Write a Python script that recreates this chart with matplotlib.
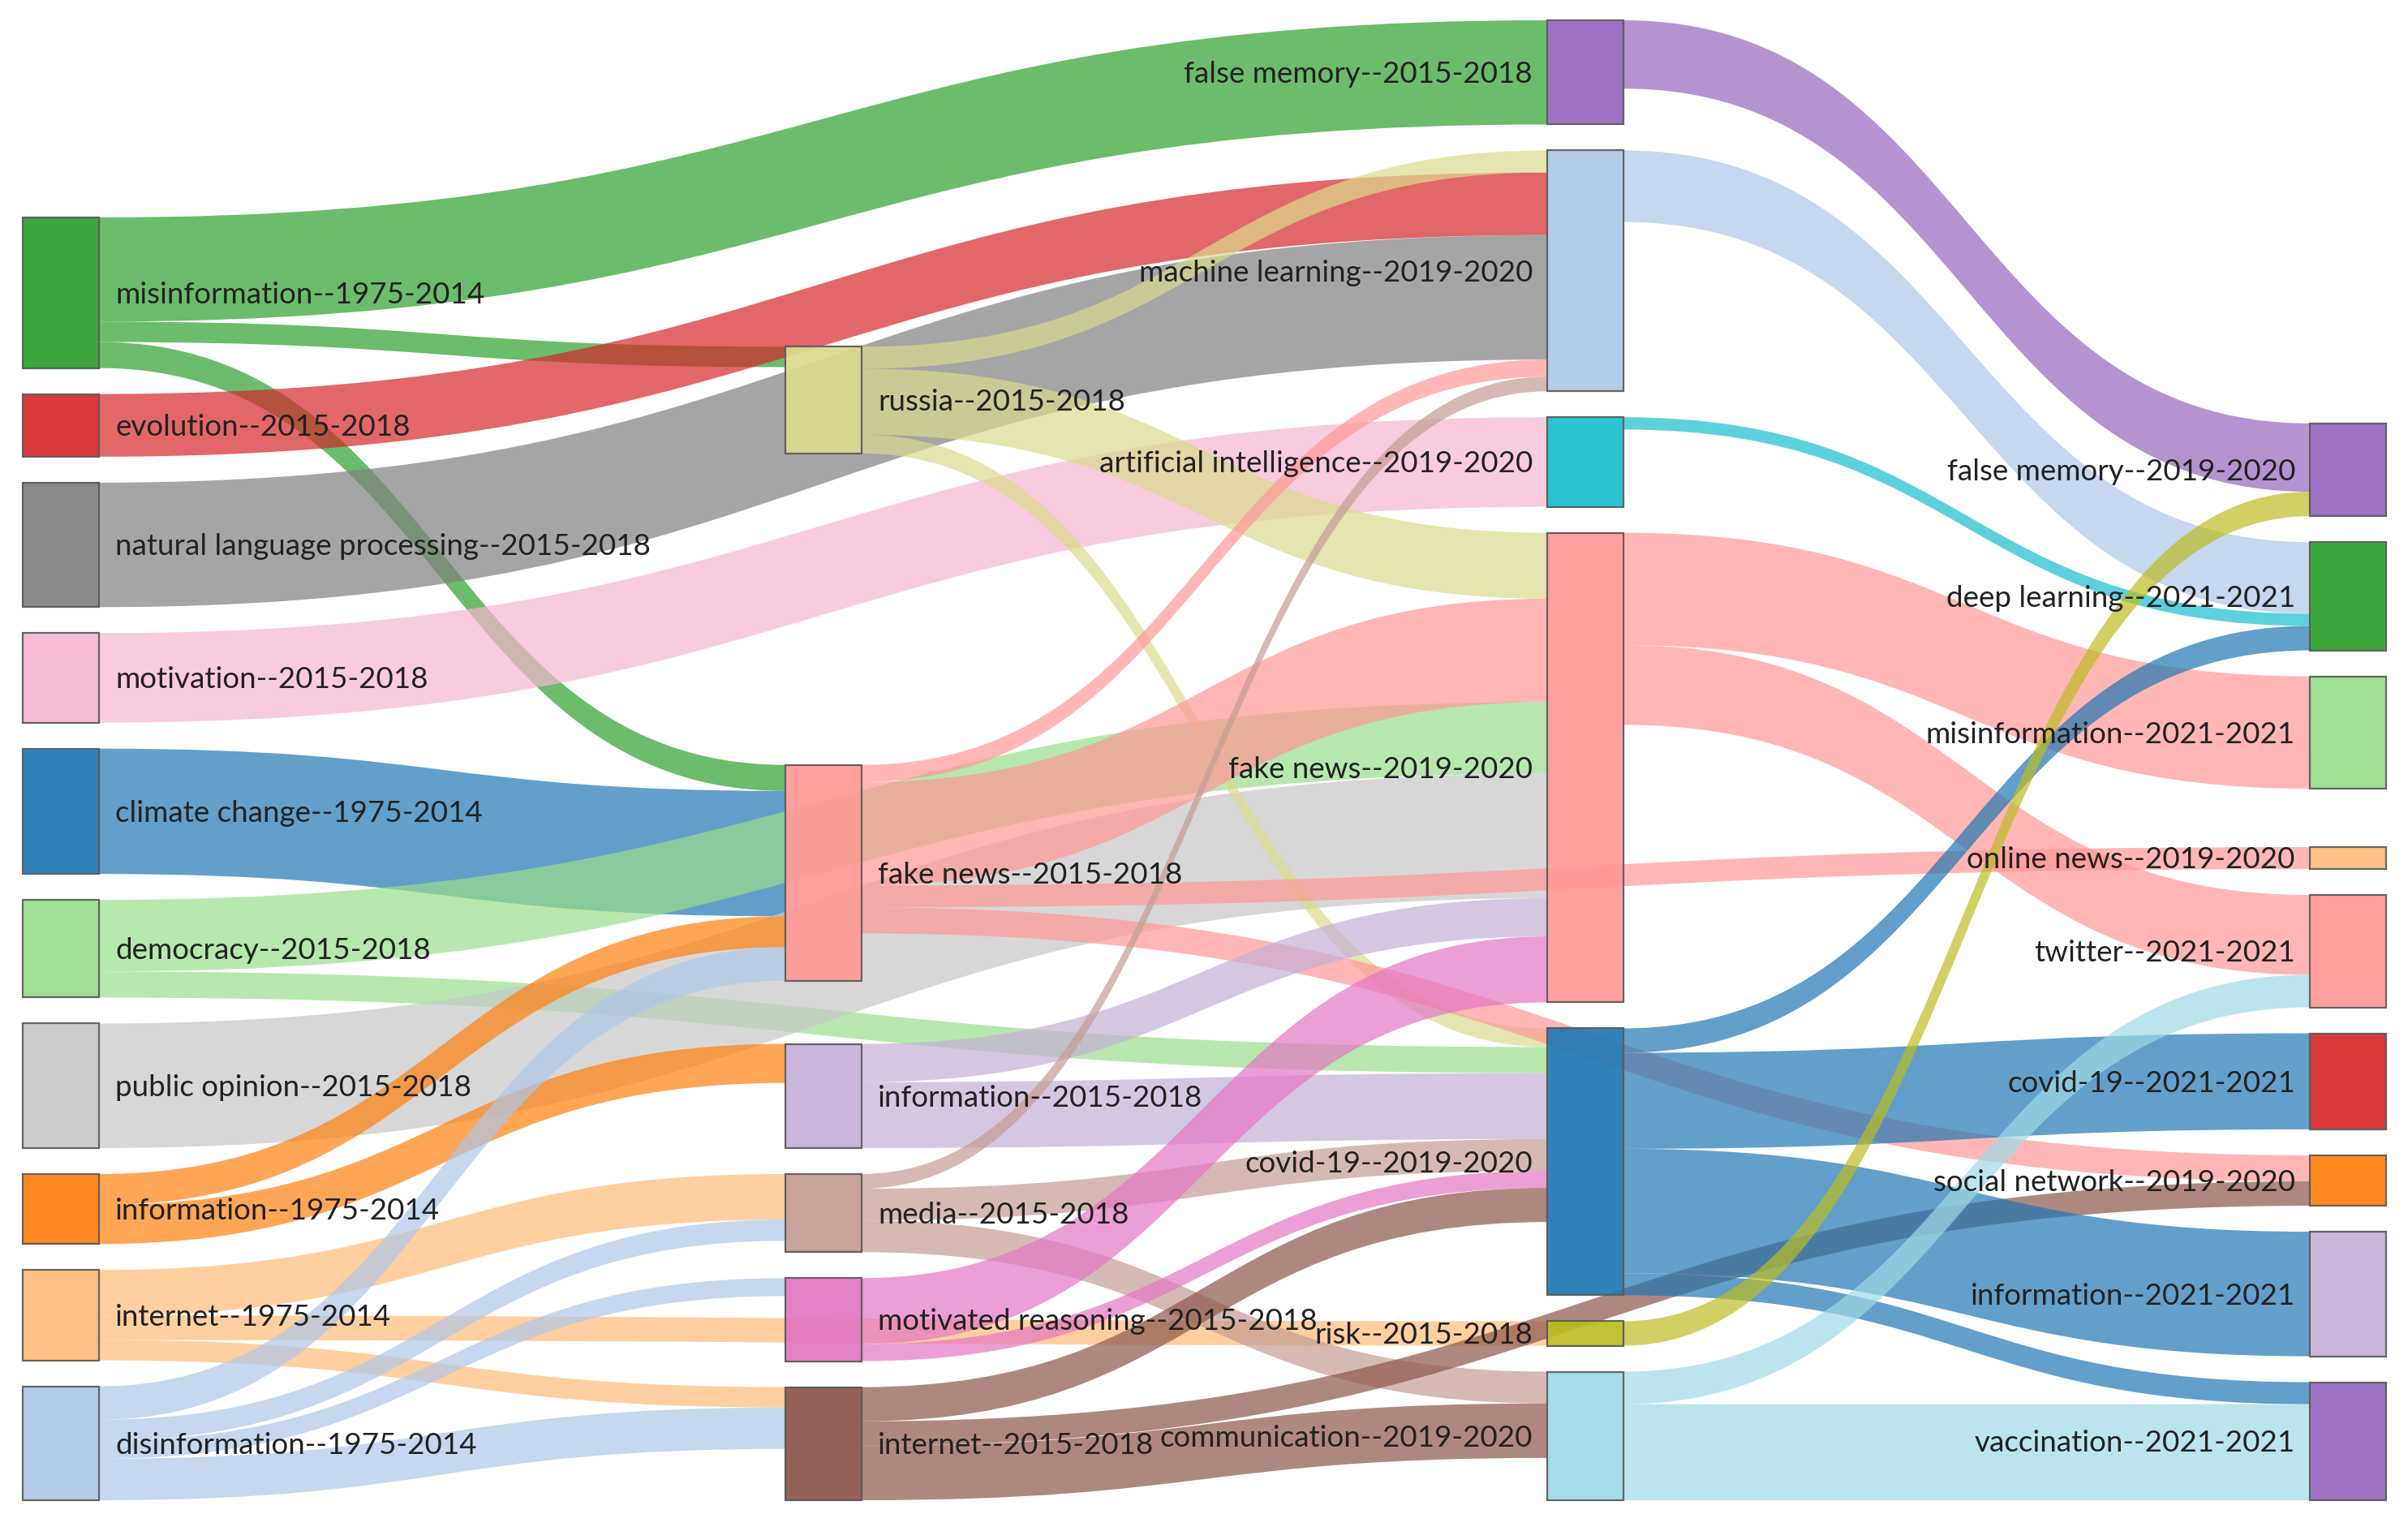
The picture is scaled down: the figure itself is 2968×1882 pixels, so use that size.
import matplotlib.pyplot as plt
from matplotlib.path import Path
from matplotlib.patches import PathPatch, Rectangle
from collections import defaultdict

# nodes, column by column, top to bottom
col0 = ["misinformation--1975-2014", "evolution--2015-2018",
        "natural language processing--2015-2018", "motivation--2015-2018",
        "climate change--1975-2014", "democracy--2015-2018",
        "public opinion--2015-2018", "information--1975-2014",
        "internet--1975-2014", "disinformation--1975-2014"]
col1 = ["russia--2015-2018", "fake news--2015-2018", "information--2015-2018",
        "media--2015-2018", "motivated reasoning--2015-2018", "internet--2015-2018"]
col2 = ["false memory--2015-2018", "machine learning--2019-2020",
        "artificial intelligence--2019-2020", "fake news--2019-2020",
        "covid-19--2019-2020", "risk--2015-2018", "communication--2019-2020"]
col3 = ["false memory--2019-2020", "deep learning--2021-2021",
        "misinformation--2021-2021", "online news--2019-2020", "twitter--2021-2021",
        "covid-19--2021-2021", "social network--2019-2020", "information--2021-2021",
        "vaccination--2021-2021"]

node_colors = {
    "misinformation--1975-2014": "#2ca02c", "evolution--2015-2018": "#d62728",
    "natural language processing--2015-2018": "#7f7f7f", "motivation--2015-2018": "#f7b6d2",
    "climate change--1975-2014": "#1f77b4", "democracy--2015-2018": "#98df8a",
    "public opinion--2015-2018": "#c7c7c7", "information--1975-2014": "#ff7f0e",
    "internet--1975-2014": "#ffbb78", "disinformation--1975-2014": "#aec7e8",
    "russia--2015-2018": "#dbdb8d", "fake news--2015-2018": "#ff9896",
    "information--2015-2018": "#c5b0d5", "media--2015-2018": "#c49c94",
    "motivated reasoning--2015-2018": "#e377c2", "internet--2015-2018": "#8c564b",
    "false memory--2015-2018": "#9467bd", "machine learning--2019-2020": "#aec7e8",
    "artificial intelligence--2019-2020": "#17becf", "fake news--2019-2020": "#ff9896",
    "covid-19--2019-2020": "#1f77b4", "risk--2015-2018": "#bcbd22",
    "communication--2019-2020": "#9edae5", "false memory--2019-2020": "#9467bd",
    "deep learning--2021-2021": "#2ca02c", "misinformation--2021-2021": "#98df8a",
    "online news--2019-2020": "#ffbb78", "twitter--2021-2021": "#ff9896",
    "covid-19--2021-2021": "#d62728", "social network--2019-2020": "#ff7f0e",
    "information--2021-2021": "#c5b0d5", "vaccination--2021-2021": "#9467bd",
}

# links
sources = [
    "misinformation--1975-2014", "misinformation--1975-2014", "misinformation--1975-2014",
    "evolution--2015-2018", "natural language processing--2015-2018",
    "motivation--2015-2018", "climate change--1975-2014",
    "democracy--2015-2018", "democracy--2015-2018", "public opinion--2015-2018",
    "information--1975-2014", "information--1975-2014",
    "internet--1975-2014", "internet--1975-2014", "internet--1975-2014",
    "disinformation--1975-2014", "disinformation--1975-2014",
    "disinformation--1975-2014", "disinformation--1975-2014",
    "russia--2015-2018", "russia--2015-2018", "russia--2015-2018",
    "fake news--2015-2018", "fake news--2015-2018", "fake news--2015-2018", "fake news--2015-2018",
    "information--2015-2018", "information--2015-2018",
    "media--2015-2018", "media--2015-2018", "media--2015-2018",
    "motivated reasoning--2015-2018", "motivated reasoning--2015-2018",
    "internet--2015-2018", "internet--2015-2018", "internet--2015-2018",
    "false memory--2015-2018", "machine learning--2019-2020",
    "artificial intelligence--2019-2020",
    "fake news--2019-2020", "fake news--2019-2020",
    "covid-19--2019-2020", "covid-19--2019-2020", "covid-19--2019-2020", "covid-19--2019-2020",
    "risk--2015-2018", "communication--2019-2020", "communication--2019-2020",
]
targets = [
    "false memory--2015-2018", "russia--2015-2018", "fake news--2015-2018",
    "machine learning--2019-2020", "machine learning--2019-2020",
    "artificial intelligence--2019-2020", "fake news--2015-2018",
    "fake news--2019-2020", "covid-19--2019-2020", "fake news--2019-2020",
    "fake news--2015-2018", "information--2015-2018",
    "media--2015-2018", "risk--2015-2018", "internet--2015-2018",
    "fake news--2015-2018", "media--2015-2018",
    "motivated reasoning--2015-2018", "internet--2015-2018",
    "machine learning--2019-2020", "fake news--2019-2020", "covid-19--2019-2020",
    "machine learning--2019-2020", "fake news--2019-2020", "online news--2019-2020",
    "social network--2019-2020",
    "fake news--2019-2020", "covid-19--2019-2020",
    "machine learning--2019-2020", "covid-19--2019-2020", "communication--2019-2020",
    "fake news--2019-2020", "covid-19--2019-2020",
    "covid-19--2019-2020", "social network--2019-2020", "communication--2019-2020",
    "false memory--2019-2020", "deep learning--2021-2021",
    "deep learning--2021-2021",
    "misinformation--2021-2021", "twitter--2021-2021",
    "deep learning--2021-2021", "covid-19--2021-2021", "information--2021-2021",
    "vaccination--2021-2021",
    "false memory--2019-2020", "twitter--2021-2021", "vaccination--2021-2021",
]
values = [
    128, 25, 32,
    77, 153,
    110, 154,
    88, 32, 153,
    38, 48,
    56, 30, 25,
    41, 26, 22, 51,
    27, 81, 23,
    21, 127, 27, 32,
    47, 81,
    18, 39, 39,
    81, 21,
    42, 30, 67,
    84, 88,
    15,
    138, 98,
    30, 118, 153, 27,
    30, 40, 118,
]

columns = [col0, col1, col2, col3]

# layout (pixels of the 2968x1882 canvas)
W, H = 2968, 1882
top, bottom = 25, 1849
pad = 32
node_w = 94
x_left = [28, 968, 1907, 2847]
extra_gap = {"fake news--2015-2018": 352, "information--2015-2018": 46,
             "online news--2019-2020": 40}
font_pt = 26.5

inflow = defaultdict(float)
outflow = defaultdict(float)
for s, t, v in zip(sources, targets, values):
    outflow[s] += v
    inflow[t] += v
size = {n: max(inflow[n], outflow[n]) for c in columns for n in c}

k = min((bottom - top - pad * (len(c) - 1) - sum(extra_gap.get(n, 0) for n in c))
        / sum(size[n] for n in c) for c in columns)

pos = {}
for ci, c in enumerate(columns):
    yb = bottom
    for n in reversed(c):
        y1 = yb
        y0 = y1 - size[n] * k
        pos[n] = (ci, y0, y1)
        yb = y0 - pad - extra_gap.get(n, 0)

def center(n):
    return (pos[n][1] + pos[n][2]) / 2

# link offsets: outgoing sorted by target y, incoming by source y
idx = list(range(len(values)))
src_off, tgt_off = {}, {}
for n in pos:
    y = pos[n][1]
    for i in sorted([i for i in idx if sources[i] == n], key=lambda i: center(targets[i])):
        src_off[i] = y
        y += values[i] * k
    y = pos[n][1]
    for i in sorted([i for i in idx if targets[i] == n], key=lambda i: center(sources[i])):
        tgt_off[i] = y
        y += values[i] * k

fig = plt.figure(figsize=(W / 100, H / 100), dpi=100)
ax = fig.add_axes([0, 0, 1, 1])
ax.set_xlim(0, W)
ax.set_ylim(H, 0)
ax.axis("off")

for i in idx:
    s, t = sources[i], targets[i]
    x0 = x_left[pos[s][0]] + node_w
    x1 = x_left[pos[t][0]]
    xm = (x0 + x1) / 2
    h = values[i] * k
    sy0, ty0 = src_off[i], tgt_off[i]
    sy1, ty1 = sy0 + h, ty0 + h
    verts = [(x0, sy0), (xm, sy0), (xm, ty0), (x1, ty0),
             (x1, ty1), (xm, ty1), (xm, sy1), (x0, sy1), (x0, sy0)]
    codes = [Path.MOVETO, Path.CURVE4, Path.CURVE4, Path.CURVE4,
             Path.LINETO, Path.CURVE4, Path.CURVE4, Path.CURVE4, Path.CLOSEPOLY]
    ax.add_patch(PathPatch(Path(verts, codes), facecolor=node_colors[s],
                           edgecolor="none", alpha=0.7, zorder=1))

# baseline sits 0.35em below the node centre
dy = 0.35 * font_pt * 100 / 72
for n, (ci, y0, y1) in pos.items():
    ax.add_patch(Rectangle((x_left[ci], y0), node_w, y1 - y0,
                           facecolor=node_colors[n], edgecolor="#5a5a5a",
                           linewidth=1.6, alpha=0.92, zorder=2))
    yc = (y0 + y1) / 2 + dy
    if ci < 2:
        ax.text(x_left[ci] + node_w + 20, yc, n, ha="left", va="baseline",
                fontsize=font_pt, family="Lato", color="#222222", zorder=3)
    else:
        ax.text(x_left[ci] - 18, yc, n, ha="right", va="baseline",
                fontsize=font_pt, family="Lato", color="#222222", zorder=3)

fig.savefig("out.png", dpi=100, facecolor="white")
